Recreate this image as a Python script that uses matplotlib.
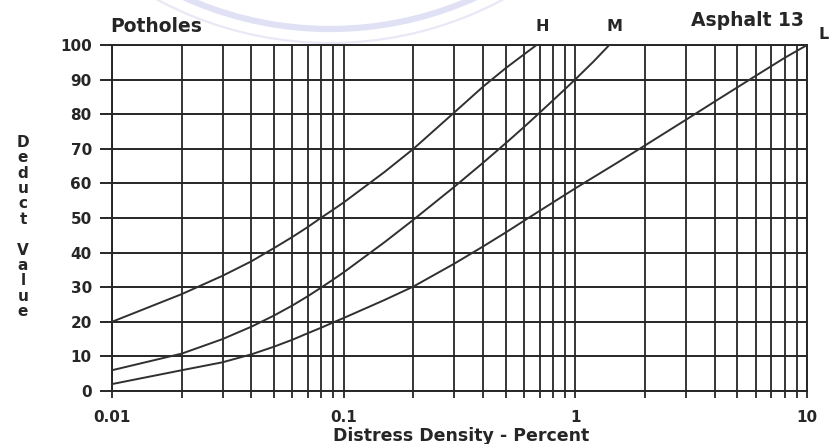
import numpy as np
import matplotlib.pyplot as plt
from matplotlib.patches import Arc
from matplotlib.ticker import LogLocator, NullFormatter, FixedLocator

# deduct value curves per severity level (density in %, deduct value)
h_density = [0.01, 0.02, 0.03, 0.04, 0.05, 0.06, 0.07, 0.08, 0.09, 0.1,
             0.15, 0.2, 0.3, 0.4, 0.5, 0.6, 0.68]
h_deduct = [20, 28, 33.3, 37.5, 41.3, 44.5, 47.4, 50.1, 52.4, 54.5,
            63.3, 70, 80.5, 88, 93.3, 97.3, 100]

m_density = [0.01, 0.02, 0.03, 0.04, 0.05, 0.06, 0.07, 0.08, 0.09, 0.1,
             0.15, 0.2, 0.3, 0.4, 0.5, 0.6, 0.7, 0.8, 0.9, 1.0, 1.2, 1.4]
m_deduct = [6, 10.8, 15, 18.6, 21.8, 24.7, 27.4, 29.9, 32.2, 34.3,
            43, 49.5, 59, 66, 71.6, 76.3, 80.4, 84, 87.2, 90.1, 95.3, 100]

l_density = [0.01, 0.02, 0.03, 0.04, 0.05, 0.06, 0.07, 0.08, 0.09, 0.1,
             0.15, 0.2, 0.3, 0.4, 0.5, 0.6, 0.8, 1.0, 1.5, 2, 3, 4, 6, 8, 10]
l_deduct = [2, 6, 8.3, 10.6, 12.8, 14.8, 16.7, 18.3, 19.8, 21.1,
            26.3, 30.2, 36.8, 41.8, 45.8, 49.2, 54.5, 58.6, 65.8, 71, 78.4, 83.7, 91.1, 96.3, 100]

x_ticks = [0.01, 0.1, 1, 10]
x_ticklabels = ["0.01", "0.1", "1", "10"]
y_ticks = [0, 10, 20, 30, 40, 50, 60, 70, 80, 90, 100]

ink = "#262626"
font = "DejaVu Sans"

fig = plt.figure(figsize=(8.32, 4.44), dpi=100)

# faint stamp behind the chart
bg = fig.add_axes([0, 0, 1, 1], zorder=-1)
bg.set_xlim(0, 832)
bg.set_ylim(444, 0)
bg.axis("off")
bg.add_patch(Arc((330, -323), 2 * 352, 2 * 352, theta1=0, theta2=360, color="#e1e1f5", lw=4.5))
bg.add_patch(Arc((330, -323), 2 * 366, 2 * 366, theta1=0, theta2=360, color="#e8e8f7", lw=1.6))

ax = fig.add_axes([0.1346, 0.1194, 0.8355, 0.7792])
ax.set_xscale("log")
ax.set_xlim(0.01, 10)
ax.set_ylim(0, 100)
ax.patch.set_alpha(0)

ax.xaxis.set_major_locator(FixedLocator(x_ticks))
ax.xaxis.set_minor_locator(LogLocator(base=10, subs=np.arange(2, 10)))
ax.xaxis.set_minor_formatter(NullFormatter())
ax.set_xticklabels(x_ticklabels)
ax.set_yticks(y_ticks)

ax.grid(True, which="both", axis="x", color=ink, lw=1.3)
ax.grid(True, which="major", axis="y", color=ink, lw=1.4)
for s in ax.spines.values():
    s.set_color(ink)
    s.set_linewidth(1.4)

ax.tick_params(axis="x", which="both", direction="out", length=5, width=1.3,
               color=ink, pad=9, labelsize=11, labelcolor=ink)
ax.tick_params(axis="y", direction="out", length=8.5, width=1.4,
               color=ink, pad=6, labelsize=11, labelcolor=ink)
for lbl in ax.get_xticklabels() + ax.get_yticklabels():
    lbl.set_fontweight("bold")
    lbl.set_family(font)

for dens, ded in [(h_density, h_deduct), (m_density, m_deduct), (l_density, l_deduct)]:
    ax.plot(dens, ded, color="#303030", lw=1.4, zorder=3)

# severity labels at the top end of each curve
ax.annotate("H", xy=(h_density[-1], h_deduct[-1]), xytext=(4, 8), textcoords="offset points",
            ha="center", va="bottom", fontsize=11.5, fontweight="bold", color=ink, family=font)
ax.annotate("M", xy=(m_density[-1], m_deduct[-1]), xytext=(4, 8), textcoords="offset points",
            ha="center", va="bottom", fontsize=11.5, fontweight="bold", color=ink, family=font)
ax.annotate("L", xy=(l_density[-1], l_deduct[-1]), xytext=(12, 2), textcoords="offset points",
            ha="center", va="bottom", fontsize=11.5, fontweight="bold", color=ink, family=font,
            annotation_clip=False)

fig.text(110 / 832, 1 - 32 / 444, "Potholes", ha="left", va="baseline",
         fontsize=13.5, fontweight="bold", color=ink, family=font)
fig.text(804 / 832, 1 - 26 / 444, "Asphalt 13", ha="right", va="baseline",
         fontsize=13.5, fontweight="bold", color=ink, family=font)

fig.text(461 / 832, 1 - 436 / 444, "Distress Density - Percent", ha="center", va="center",
         fontsize=12.5, fontweight="bold", color=ink, family=font)
fig.text(23 / 832, 1 - 227 / 444, "D\ne\nd\nu\nc\nt\n\nV\na\nl\nu\ne", ha="center", va="center",
         fontsize=11, fontweight="bold", color=ink, family=font, linespacing=1.03)

fig.savefig("out.png", dpi=100)
